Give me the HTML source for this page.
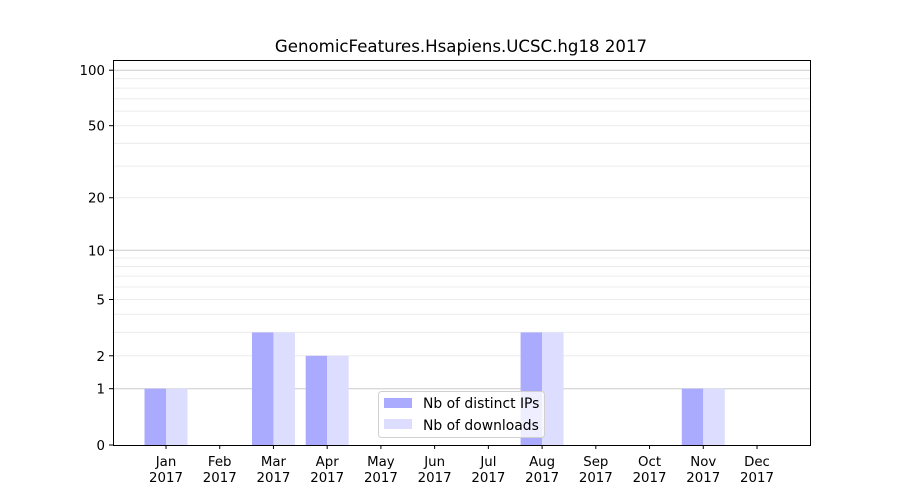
<!DOCTYPE html>
<html><head><meta charset="utf-8"><style>
body{margin:0;background:#fff;}
svg{display:block;font-family:"DejaVu Sans","Liberation Sans",sans-serif;}
</style></head><body>
<svg id="chart" width="900" height="500">
<text x="461" y="52" text-anchor="middle" font-size="16.6">GenomicFeatures.Hsapiens.UCSC.hg18 2017</text>
<g id="grid"></g><g id="bars"></g><g id="axes"></g>
</svg>
<script>
const months=["Jan","Feb","Mar","Apr","May","Jun","Jul","Aug","Sep","Oct","Nov","Dec"];
const distinctIPs=[1,0,3,2,0,0,0,3,0,0,1,0];
const downloads=[1,0,3,2,0,0,0,3,0,0,1,0];
const yTicks=[0,1,2,5,10,20,50,100];
const minorGrid=[2,3,4,5,6,7,8,9,20,30,40,50,60,70,80,90];
const majorGrid=[1,10,100];
const NS="http://www.w3.org/2000/svg";
const L=113,R=810,T=60,B=445;
function y(v){return B-187*Math.log10(1+v);}
const step=(757-166)/11;
function xc(i){return 166+i*step;}
const bw=step*0.4;
function mk(tag,attrs,parent,text){const e=document.createElementNS(NS,tag);for(const k in attrs)e.setAttribute(k,attrs[k]);if(text!==undefined)e.textContent=text;parent.appendChild(e);return e;}
const grid=document.getElementById('grid'),bars=document.getElementById('bars'),axes=document.getElementById('axes');
minorGrid.forEach(v=>{const l=mk('line',{x1:L,x2:R,y1:y(v),y2:y(v),stroke:'#ececec','stroke-width':1},grid);

});
majorGrid.forEach(v=>{const l=mk('line',{x1:L,x2:R,y1:y(v),y2:y(v),stroke:'#cccccc','stroke-width':1},grid);

});
months.forEach((m,i)=>{
 const a=mk('rect',{x:xc(i)-bw,y:y(distinctIPs[i]),width:bw,height:B-y(distinctIPs[i]),fill:'#aaaaff'},bars);
 
 
 const b=mk('rect',{x:xc(i),y:y(downloads[i]),width:bw,height:B-y(downloads[i]),fill:'#ddddff'},bars);
 
 
 mk('line',{x1:xc(i),x2:xc(i),y1:B,y2:B+4,stroke:'#000'},axes);
 const t=mk('text',{x:xc(i),y:B+21,'text-anchor':'middle','font-size':13.33},axes,m);
 
 
 const t2=mk('text',{x:xc(i),y:B+37,'text-anchor':'middle','font-size':13.33},axes,'2017');
 
 
});
yTicks.forEach(v=>{
 mk('line',{x1:L-4,x2:L,y1:y(v),y2:y(v),stroke:'#000'},axes);
 const t=mk('text',{x:L-8,y:y(v)+5,'text-anchor':'end','font-size':13.33},axes,String(v));
 
 
});
const frame=mk('rect',{x:L+0.5,y:T+0.5,width:R-L,height:B-T,fill:'none',stroke:'#000','stroke-width':1},axes);


const lg=mk('g',{},axes);


mk('rect',{x:378.5,y:391.5,width:166,height:46,rx:3,fill:'#fff','fill-opacity':0.8,stroke:'#d0d0d0'},lg);
mk('rect',{x:384,y:398,width:28,height:10,fill:'#aaaaff'},lg);
mk('text',{x:423,y:408,'font-size':13.9},lg,'Nb of distinct IPs');
mk('rect',{x:384,y:419,width:28,height:10,fill:'#ddddff'},lg);
mk('text',{x:423,y:430,'font-size':13.9},lg,'Nb of downloads');
</script>
</body></html>
